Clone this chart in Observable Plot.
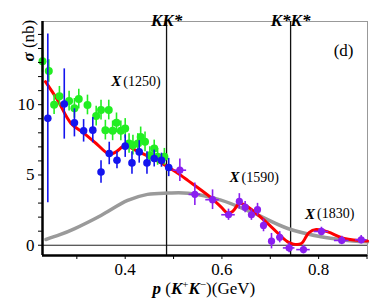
<!DOCTYPE html>
<html>
<head>
<meta charset="utf-8">
<script src="https://cdn.jsdelivr.net/npm/d3@7"></script>
<script src="https://cdn.jsdelivr.net/npm/@observablehq/plot@0.6"></script>
<style>
  html, body { margin: 0; padding: 0; background: white; }
</style>
</head>
<body>
<div id="chart"></div>
<script>
// Green data set: p (GeV), sigma (nb), error
const greenP   = [0.229,0.242,0.253,0.264,0.284,0.295,0.304,0.322,0.340,0.350,0.359,0.366,0.374,0.382,0.391,0.400,0.408,0.416,0.426,0.432,0.441,0.451,0.460,0.467,0.481];
const greenS   = [13.1,12.4,10.0,10.6,10.26,9.74,10.4,9.98,9.19,9.62,8.19,9.62,8.14,8.71,8.14,8.31,7.24,7.12,7.24,7.71,7.36,6.41,6.88,6.29,6.29];
const greenErr = [0.8,0.8,0.7,0.7,0.7,0.7,0.7,0.7,0.7,0.7,0.7,0.7,0.7,0.7,0.7,0.7,0.7,0.7,0.7,0.7,0.7,0.6,0.6,0.6,0.6];

// Blue data set
const blueP   = [0.240,0.274,0.295,0.314,0.333,0.350,0.367,0.383,0.400,0.414,0.429,0.445,0.460,0.475,0.490];
const blueS   = [9.03,10.05,8.71,8.14,8.19,5.21,6.53,6.05,7.05,5.86,6.64,5.86,6.17,6.05,5.53];
const blueErr = [6.0,2.5,1.0,0.8,0.9,0.8,0.8,0.6,0.8,0.8,0.8,0.8,0.6,0.5,0.65];

// Purple data set (with horizontal error)
const purpleP    = [0.513,0.544,0.5806,0.6136,0.636,0.648,0.661,0.6736,0.686,0.7025,0.7195,0.739,0.7686,0.8058,0.8477,0.888];
const purpleS    = [5.34,3.62,3.24,2.17,3.12,2.71,2.17,2.53,1.41,0.29,0.57,-0.19,-0.31,0.98,0.34,0.39];
const purpleErr  = [0.8,0.8,0.7,0.4,0.55,0.4,0.4,0.45,0.45,0.55,0.4,0.35,0.3,0.3,0.3,0.3];
const purplePErr = [0.014,0.012,0.014,0.014,0.006,0.005,0.005,0.005,0.005,0.005,0.006,0.012,0.014,0.015,0.015,0.012];

// Red fit curve
const fitP = [0.235,0.26,0.288,0.315,0.34,0.367,0.381,0.40,0.415,0.436,0.477,0.505,0.53,0.571,0.598,0.612,0.622,0.636,0.645,0.667,0.702,0.736,0.748,0.764,0.78,0.795,0.819,0.853,0.901];
const fitS = [11.64,10.34,8.67,7.96,7.24,6.48,6.64,7.12,6.88,6.52,5.81,5.21,4.6,3.56,2.73,2.28,2.4,2.97,2.9,2.38,1.31,0.24,0.08,0.12,0.9,1.12,0.95,0.48,0.3];

// Gray background curve
const bgP = [0.236,0.265,0.2946,0.35,0.405,0.446,0.488,0.53,0.598,0.667,0.736,0.805,0.85,0.901];
const bgS = [0.41,0.75,1.17,2.12,3.19,3.62,3.71,3.7,3.21,2.26,1.19,0.6,0.38,0.24];

// Thresholds
const thrP     = [0.4855, 0.742];
const thrLabel = ["KK*", "K*K*"];

// Resonance annotations
const resName = ["X", "X", "X"];
const resMass = ["(1250)", "(1590)", "(1830)"];
const resP    = [0.421, 0.6655, 0.8215];
const resS    = [11.65, 4.84, 2.23];

// Axis ticks
const xMajor = [0.4, 0.6, 0.8];
const xMinor = [0.3, 0.5, 0.7, 0.9];
const yMajor = [0, 5, 10];
const yMinor = [1,2,3,4,6,7,8,9,11,12,13,14,15];

const xDomain = [0.229, 0.901];
const yDomain = [-0.73, 15.92];

const green  = greenP.map((p,i)=>({p, s:greenS[i], e:greenErr[i]}));
const blue   = blueP.map((p,i)=>({p, s:blueS[i], e:blueErr[i]}));
const purple = purpleP.map((p,i)=>({p, s:purpleS[i], e:purpleErr[i], pe:purplePErr[i]}));
const fit    = fitP.map((p,i)=>({p, s:fitS[i]}));
const bg     = bgP.map((p,i)=>({p, s:bgS[i]}));
const thr    = thrP.map((p,i)=>({p, label:thrLabel[i]}));
const res    = resP.map((p,i)=>({p, s:resS[i], name:resName[i], mass:resMass[i]}));

const serif = "'Liberation Serif', 'DejaVu Serif', serif";
const cGreen = "#22ee22", cBlue = "#1414ee", cPurple = "#8a1ff0";

const chart = Plot.plot({
  width: 374,
  height: 306,
  marginLeft: 42,
  marginRight: 7,
  marginTop: 21,
  marginBottom: 51,
  style: {fontFamily: serif, fontSize: "16px", background: "white", color: "black"},
  x: {domain: xDomain},
  y: {domain: yDomain},
  marks: [
    Plot.frame({stroke: "#999", strokeWidth: 1}),
    Plot.ruleY([0], {stroke: "#222", strokeWidth: 1}),
    Plot.ruleX(thr, {x: "p", stroke: "#111", strokeWidth: 1.3}),
    Plot.line(bg, {x: "p", y: "s", stroke: "#9a9a9a", strokeWidth: 3.5, curve: "catmull-rom"}),
    Plot.line(fit, {x: "p", y: "s", stroke: "#ff0000", strokeWidth: 3, curve: "catmull-rom"}),
    // green
    Plot.ruleX(green, {x: "p", y1: d => d.s - d.e, y2: d => d.s + d.e, stroke: cGreen, strokeWidth: 1.6}),
    Plot.dot(green, {x: "p", y: "s", r: 4, fill: cGreen}),
    // blue
    Plot.ruleX(blue, {x: "p", y1: d => d.s - d.e, y2: d => d.s + d.e, stroke: cBlue, strokeWidth: 1.6}),
    Plot.dot(blue, {x: "p", y: "s", r: 3.8, fill: cBlue}),
    // purple
    Plot.ruleX(purple, {x: "p", y1: d => d.s - d.e, y2: d => d.s + d.e, stroke: cPurple, strokeWidth: 1.6}),
    Plot.ruleY(purple, {y: "s", x1: d => d.p - d.pe, x2: d => d.p + d.pe, stroke: cPurple, strokeWidth: 1.6}),
    Plot.dot(purple, {x: "p", y: "s", r: 3.6, fill: cPurple}),
    // thick left and bottom axis lines
    Plot.ruleX([xDomain[0]], {stroke: "black", strokeWidth: 2.5}),
    Plot.ruleY([yDomain[0]], {stroke: "black", strokeWidth: 2.5}),
    // axes
    Plot.axisX({ticks: xMajor, tickSize: 4, tickPadding: 3, tickFormat: d3.format(".1f"), label: null, fontSize: 17}),
    Plot.axisX({ticks: xMinor.filter(v => v <= xDomain[1]), tickSize: 4, tickFormat: () => "", label: null}),
    Plot.axisY({ticks: yMajor, tickSize: 4, tickPadding: 4, tickFormat: d => String(d), label: null, fontSize: 17}),
    Plot.axisY({ticks: yMinor, tickSize: 4, tickFormat: () => "", label: null}),
    // threshold labels
    Plot.text(thr, {x: "p", text: "label", frameAnchor: "top", dy: -8, fontWeight: "bold", fontStyle: "italic", fontSize: 17}),
    // resonance labels
    Plot.text(res, {x: "p", y: "s", text: "name", textAnchor: "end", dx: -14, fontWeight: "bold", fontStyle: "italic", fontSize: 15}),
    Plot.text(res, {x: "p", y: "s", text: "mass", textAnchor: "start", dx: -12, fontSize: 14}),
    // panel label
    Plot.text(["(d)"], {frameAnchor: "top-right", dx: -14, dy: 22, fontSize: 17}),
    // axis titles
    Plot.text(["σ (nb)"], {frameAnchor: "top-left", dx: -21, dy: 40, rotate: -90, fontSize: 17, className: "ylab"}),
    Plot.text(["p (K+K−)(GeV)"], {x: [0.5626], frameAnchor: "bottom", dy: 38, fontSize: 17, className: "xlab"})
  ]
});

// rich text styling for the axis titles
function richify(node, parts) {
  node.textContent = "";
  for (const [txt, style] of parts) {
    const t = document.createElementNS("http://www.w3.org/2000/svg", "tspan");
    t.textContent = txt;
    for (const k in style) t.setAttribute(k, style[k]);
    node.appendChild(t);
  }
}
const ylab = chart.querySelector("g.ylab text") || [...chart.querySelectorAll("text")].find(t => t.textContent === "σ (nb)");
if (ylab) richify(ylab, [["σ", {"font-weight": "bold", "font-style": "italic"}], [" (nb)", {}]]);
const xlab = chart.querySelector("g.xlab text") || [...chart.querySelectorAll("text")].find(t => t.textContent === "p (K+K−)(GeV)");
if (xlab) richify(xlab, [
  ["p", {"font-style": "italic", "font-weight": "bold"}],
  [" (", {}],
  ["K", {"font-style": "italic", "font-weight": "bold"}],
  ["+", {"baseline-shift": "super", "font-size": "11"}],
  ["K", {"font-style": "italic", "font-weight": "bold"}],
  ["−", {"baseline-shift": "super", "font-size": "11"}],
  [")(GeV)", {}]
]);
document.getElementById("chart").appendChild(chart);
</script>
</body>
</html>
